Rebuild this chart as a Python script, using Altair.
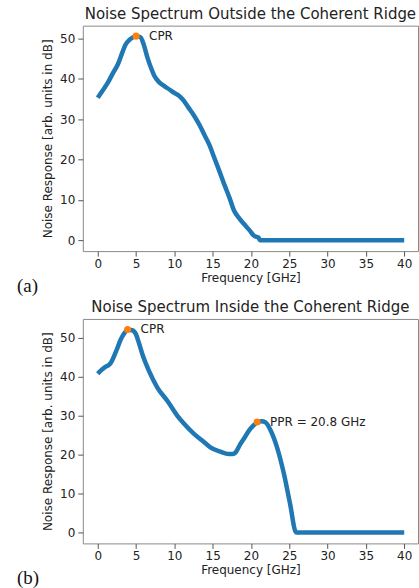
import altair as alt
import pandas as pd

# Noise spectrum outside the coherent ridge (panel a)
out_freq = [0.0, 0.6, 1.3, 2.0, 2.6, 3.2, 3.6, 4.2, 5.1, 5.6, 6.0, 6.5, 7.0, 7.4, 8.0,
            8.7, 9.4, 10.0, 10.6, 11.1, 11.8, 12.6, 13.3, 13.9, 14.6, 15.2, 15.9, 16.5,
            17.2, 17.8, 18.4, 19.1, 19.8, 20.4, 20.8, 21.0, 21.2, 40.0]
out_val = [35.3, 37.0, 39.0, 41.5, 43.5, 46.5, 48.4, 49.8, 50.6, 50.3, 48.5, 45.2, 42.5,
           40.7, 39.2, 38.2, 37.3, 36.5, 35.8, 34.9, 33.0, 30.8, 28.5, 26.2, 23.5, 20.5,
           17.0, 13.9, 10.5, 7.3, 5.6, 4.0, 2.5, 1.1, 0.8, 0.6, 0.0, 0.0]

# Noise spectrum inside the coherent ridge (panel b)
in_freq = [0.0, 0.5, 1.0, 1.4, 1.7, 2.4, 3.0, 3.5, 4.0, 4.5, 5.0, 5.4, 5.85, 6.7, 7.8,
           9.1, 10.4, 11.3, 12.6, 13.9, 14.7, 16.0, 17.1, 17.6, 18.0, 18.6, 19.2, 19.7,
           20.3, 20.9, 21.4, 21.9, 22.6, 23.4, 24.3, 25.1, 25.9, 40.0]
in_val = [40.8, 41.8, 42.6, 43.0, 43.6, 46.6, 49.6, 51.3, 52.1, 52.0, 50.9, 48.6, 45.7,
          41.5, 37.2, 33.8, 30.0, 27.9, 25.3, 23.2, 21.9, 20.8, 20.2, 20.2, 20.6, 22.7,
          24.5, 26.1, 27.5, 28.4, 28.6, 28.3, 26.1, 21.9, 15.1, 7.4, 0.0, 0.0]

# Marked resonance peaks
out_peak_freq = [5.0]
out_peak_val = [50.6]
out_peak_label = ["CPR"]

in_peak_freq = [3.9, 20.8]
in_peak_val = [52.2, 28.4]
in_peak_label = ["CPR", "PPR = 20.8 GHz"]

x_ticks = [0, 5, 10, 15, 20, 25, 30, 35, 40]
y_ticks = [0, 10, 20, 30, 40, 50]

BLUE = "#1f77b4"
ORANGE = "#ff7f0e"
FONT = "DejaVu Sans"
W = 336


def panel(freq, val, pk_f, pk_v, pk_l, title, tag, y_dom, h):
    line_df = pd.DataFrame({"f": freq, "v": val})
    pk_df = pd.DataFrame({"f": pk_f, "v": pk_v, "label": pk_l})

    x = alt.X("f:Q", title="Frequency [GHz]",
              scale=alt.Scale(domain=[-1.95, 41.8], nice=False, zero=False),
              axis=alt.Axis(values=x_ticks, format="d"))
    y = alt.Y("v:Q", title="Noise Response [arb. units in dB]",
              scale=alt.Scale(domain=y_dom, nice=False, zero=False),
              axis=alt.Axis(values=y_ticks, format="d"))

    line = alt.Chart(line_df).mark_line(
        color=BLUE, strokeWidth=4.5, strokeCap="butt", strokeJoin="round",
        interpolate="monotone"
    ).encode(x=x, y=y)
    dots = alt.Chart(pk_df).mark_point(
        filled=True, color=ORANGE, size=50, opacity=1
    ).encode(x="f:Q", y="v:Q")
    labels = alt.Chart(pk_df).mark_text(
        align="left", baseline="middle", dx=13, font=FONT, fontSize=12, color="#222"
    ).encode(x="f:Q", y="v:Q", text="label:N")
    tag_mark = alt.Chart(pd.DataFrame({"t": [tag]})).mark_text(
        align="left", baseline="middle", font="Liberation Serif", fontSize=19, color="#111"
    ).encode(x=alt.value(-66), y=alt.value(h + 35), text="t:N")

    return alt.layer(line, dots, labels, tag_mark).properties(
        width=W, height=h,
        title=alt.TitleParams(title, fontSize=15, font=FONT, fontWeight="normal",
                              color="#222", offset=4, anchor="middle"),
    )


top = panel(out_freq, out_val, out_peak_freq, out_peak_val, out_peak_label,
            "Noise Spectrum Outside the Coherent Ridge", "(a)", [-2.7, 53.2], 226)
bottom = panel(in_freq, in_val, in_peak_freq, in_peak_val, in_peak_label,
               "Noise Spectrum Inside the Coherent Ridge", "(b)", [-2.8, 54.9], 225)

chart = alt.vconcat(top, bottom, spacing=68, bounds="flush").properties(
    padding={"left": 16, "top": 5, "right": 0, "bottom": 0},
    background="white",
).configure_view(
    stroke="#8a8a8a", strokeWidth=1
).configure_axis(
    grid=False, domain=False,
    tickColor="#555", tickSize=5, tickWidth=1,
    labelFont=FONT, labelFontSize=12, labelColor="#222", labelPadding=2,
    titleFont=FONT, titleFontSize=12, titleColor="#222", titleFontWeight="normal",
).configure_axisY(
    labelPadding=3, titlePadding=5,
).configure_axisX(
    titlePadding=3,
)

chart.save("out.html", embed_options={"renderer": "svg", "actions": False})
